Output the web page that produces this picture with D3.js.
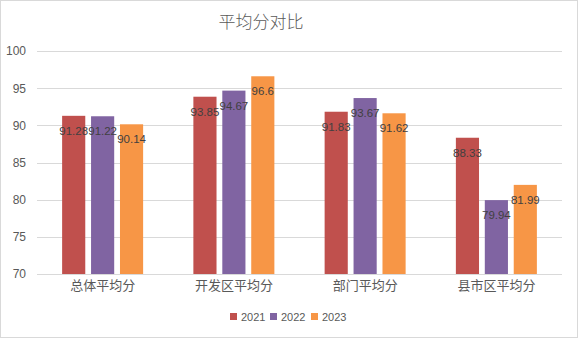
<!DOCTYPE html>
<html><head><meta charset="utf-8">
<script src="https://cdn.jsdelivr.net/npm/d3@7"></script>
<style>
html,body{margin:0;padding:0;background:#fff;}
svg{display:block;}
</style></head>
<body>
<script>
const categories = ["总体平均分","开发区平均分","部门平均分","县市区平均分"];
const seriesNames = ["2021","2022","2023"];
const values2021 = [91.28, 93.85, 91.83, 88.33];
const values2022 = [91.22, 94.67, 93.67, 79.94];
const values2023 = [90.14, 96.6, 91.62, 81.99];
const colors = ["#C0504D","#8064A2","#F79646"];
const yTicks = [70,75,80,85,90,95,100];
const title = "平均分对比";

(function(){
const W = 578, H = 338;
const svg = d3.select("body").append("svg").attr("width", W).attr("height", H);
svg.append("rect").attr("x",0.5).attr("y",0.5).attr("width",W-1).attr("height",H-1)
  .attr("fill","#fff").attr("stroke","#d9d9d9");

const pLeft = 37, pRight = 562, pTop = 51, pBottom = 274;
const y = d3.scaleLinear().domain([70,100]).range([pBottom, pTop]);
const x0 = d3.scaleBand().domain(categories).range([pLeft, pRight]).paddingInner(0).paddingOuter(0);
const groupW = 81;
const x1 = d3.scaleBand().domain(seriesNames).range([0, groupW]).paddingInner(0.2).paddingOuter(0);

const numFont = "'Liberation Sans', 'Noto Sans', sans-serif";
const cjkFont = "'Noto Sans CJK SC', sans-serif";

// gridlines
svg.append("g").selectAll("line").data(yTicks).join("line")
  .attr("x1", pLeft).attr("x2", pRight)
  .attr("y1", d => Math.round(y(d))+0.5).attr("y2", d => Math.round(y(d))+0.5)
  .attr("stroke", "#d9d9d9").attr("stroke-width", 1);

// y axis labels
const yAxis = d3.axisLeft(y).tickValues(yTicks).tickSize(0).tickPadding(0);
const ya = svg.append("g").attr("transform", `translate(${pLeft-11},0)`).call(yAxis);
ya.select(".domain").remove();
ya.selectAll("text").attr("font-family", numFont).attr("font-size", 12).attr("fill", "#595959");

// x axis labels
const xAxis = d3.axisBottom(x0).tickSize(0).tickPadding(0);
const xa = svg.append("g").attr("transform", `translate(0,${pBottom+7})`).call(xAxis);
xa.select(".domain").remove();
xa.selectAll("text").attr("font-family", cjkFont).attr("font-size", 13).attr("fill", "#595959");

const series = [values2021, values2022, values2023];
const data = [];
categories.forEach((c, i) => {
  seriesNames.forEach((s, j) => data.push({cat: c, s, v: series[j][i], color: colors[j]}));
});

const barX = d => x0(d.cat) + (x0.bandwidth() - groupW)/2 + x1(d.s);

svg.append("g").selectAll("rect").data(data).join("rect")
  .attr("x", barX)
  .attr("y", d => y(d.v))
  .attr("width", x1.bandwidth())
  .attr("height", d => y(70) - y(d.v))
  .attr("fill", d => d.color);

svg.append("g").selectAll("text").data(data).join("text")
  .attr("x", d => barX(d) + x1.bandwidth()/2)
  .attr("y", d => y(d.v) + 19)
  .attr("text-anchor", "middle")
  .attr("font-family", numFont).attr("font-size", 11.5).attr("fill", "#404040")
  .text(d => d.v);

// title
svg.append("text").attr("x", 261).attr("y", 28).attr("text-anchor","middle")
  .attr("font-family", cjkFont).attr("font-weight", 300).attr("font-size", 17).attr("fill", "#595959").text(title);

// legend
const lg = svg.append("g");
const legX = [230, 270, 311];
seriesNames.forEach((s, j) => {
  lg.append("rect").attr("x", legX[j]).attr("y", 313).attr("width", 7).attr("height", 7).attr("fill", colors[j]);
  lg.append("text").attr("x", legX[j]+11).attr("y", 321).attr("font-family", numFont)
    .attr("font-size", 11).attr("fill", "#595959").text(s);
});
})();
</script>
</body></html>
